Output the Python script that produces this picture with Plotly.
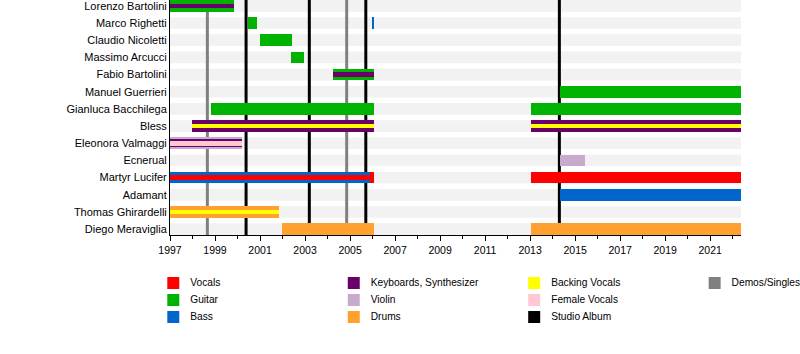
import plotly.graph_objects as go

# ---------------- data ----------------
members = ["Lorenzo Bartolini", "Marco Righetti", "Claudio Nicoletti", "Massimo Arcucci",
           "Fabio Bartolini", "Manuel Guerrieri", "Gianluca Bacchilega", "Bless",
           "Eleonora Valmaggi", "Ecnerual", "Martyr Lucifer", "Adamant",
           "Thomas Ghirardelli", "Diego Meraviglia"]

END = 2022.37
START = 1997

roles = ["Vocals", "Guitar", "Bass", "Keyboards, Synthesizer", "Violin", "Drums",
         "Backing Vocals", "Female Vocals", "Studio Album", "Demos/Singles"]
role_colors = ["#ff0000", "#00b300", "#0066cc", "#6a006a", "#c8aacd", "#ffa030",
               "#ffff00", "#ffc8d2", "#000000", "#808080"]

# segments: member, role, start, end, layer (full / mid / narrow / stripe)
seg_member = ["Lorenzo Bartolini", "Lorenzo Bartolini",
              "Marco Righetti", "Marco Righetti",
              "Claudio Nicoletti", "Massimo Arcucci",
              "Fabio Bartolini", "Fabio Bartolini",
              "Manuel Guerrieri",
              "Gianluca Bacchilega", "Gianluca Bacchilega",
              "Bless", "Bless", "Bless", "Bless",
              "Eleonora Valmaggi", "Eleonora Valmaggi", "Eleonora Valmaggi",
              "Ecnerual",
              "Martyr Lucifer", "Martyr Lucifer", "Martyr Lucifer", "Martyr Lucifer",
              "Adamant",
              "Thomas Ghirardelli", "Thomas Ghirardelli",
              "Diego Meraviglia", "Diego Meraviglia"]
seg_role = ["Guitar", "Keyboards, Synthesizer",
            "Guitar", "Bass",
            "Guitar", "Guitar",
            "Guitar", "Keyboards, Synthesizer",
            "Guitar",
            "Guitar", "Guitar",
            "Keyboards, Synthesizer", "Keyboards, Synthesizer", "Backing Vocals", "Backing Vocals",
            "Violin", "Keyboards, Synthesizer", "Female Vocals",
            "Violin",
            "Vocals", "Bass", "Vocals", "Vocals",
            "Bass",
            "Drums", "Backing Vocals",
            "Drums", "Drums"]
seg_start = [1997.0, 1997.0,
             2000.45, 2005.98,
             2001.0, 2002.38,
             2004.24, 2004.24,
             2014.33,
             1998.82, 2013.04,
             1997.98, 2013.04, 1997.98, 2013.04,
             1997.0, 1997.0, 1997.0,
             2014.33,
             1997.0, 1997.0, 1997.0, 2013.04,
             2014.33,
             1997.0, 1997.0,
             2001.98, 2013.04]
seg_end = [1999.84, 1999.84,
           2000.87, 2006.07,
           2002.42, 2002.94,
           2006.07, 2006.07,
           END,
           2006.07, END,
           2006.07, END, 2006.07, END,
           2000.18, 2000.18, 2000.18,
           2015.43,
           2006.07, 2005.9, 2005.9, END,
           END,
           2001.83, 2001.83,
           2006.07, END]
seg_layer = ["full", "stripe",
             "full", "full",
             "full", "full",
             "full", "stripe",
             "full",
             "full", "full",
             "full", "full", "stripe", "stripe",
             "full", "mid", "narrow",
             "full",
             "full", "full", "stripe", "full",
             "full",
             "full", "stripe",
             "full", "full"]

album_years = [2000.38, 2003.19, 2005.7, 2014.3]
demo_years = [1998.66, 2004.85]

legend_columns = [["Vocals", "Guitar", "Bass"],
                  ["Keyboards, Synthesizer", "Violin", "Drums"],
                  ["Backing Vocals", "Female Vocals", "Studio Album"],
                  ["Demos/Singles"]]

# ---------------- figure ----------------
color_of = dict(zip(roles, role_colors))
row_of = {m: i for i, m in enumerate(members)}
layer_width = {"full": 0.68, "mid": 0.46, "stripe": 0.25, "narrow": 0.32}

fig = go.Figure()

for m, r, s, e, l in zip(seg_member, seg_role, seg_start, seg_end, seg_layer):
    fig.add_trace(go.Bar(
        orientation="h", y=[row_of[m]], x=[e - s], base=[s],
        width=layer_width[l], marker=dict(color=color_of[r], line=dict(width=0)),
        showlegend=False, hoverinfo="skip", xaxis="x", yaxis="y"))

# legend drawn on its own hidden axes (column index, row index)
leg_x, leg_y, leg_name, leg_col = [], [], [], []
for ci, col in enumerate(legend_columns):
    for ri, r in enumerate(col):
        leg_x.append(ci)
        leg_y.append(ri)
        leg_name.append(r)
        leg_col.append(color_of[r])

TEXT_OFFSET = 0.094  # gap between swatch centre and label, in column units
fig.add_trace(go.Scatter(
    x=leg_x, y=leg_y, mode="markers", xaxis="x2", yaxis="y2",
    marker=dict(symbol="square", size=12, color=leg_col, line=dict(width=0)),
    showlegend=False, hoverinfo="skip", cliponaxis=False))
fig.add_trace(go.Scatter(
    x=[v + TEXT_OFFSET for v in leg_x], y=leg_y, mode="text", text=leg_name,
    textposition="middle right", xaxis="x2", yaxis="y2",
    textfont=dict(size=10.2, color="#000000"),
    showlegend=False, hoverinfo="skip", cliponaxis=False))

shapes = []
for i in range(len(members)):
    shapes.append(dict(type="rect", xref="x domain", x0=0, x1=1, yref="y",
                       y0=i - 0.34, y1=i + 0.34, fillcolor="#f2f2f2",
                       line=dict(width=0), layer="below"))
for yv in demo_years:
    shapes.append(dict(type="line", xref="x", x0=yv, x1=yv, yref="y domain", y0=0, y1=1,
                       line=dict(color=color_of["Demos/Singles"], width=3), layer="below"))
for yv in album_years:
    shapes.append(dict(type="line", xref="x", x0=yv, x1=yv, yref="y domain", y0=0, y1=1,
                       line=dict(color=color_of["Studio Album"], width=3), layer="below"))

fig.update_layout(
    width=800, height=354,
    margin=dict(l=170, r=59, t=0, b=0, autoexpand=False),
    paper_bgcolor="white", plot_bgcolor="white",
    barmode="overlay", bargap=0, showlegend=False,
    font=dict(family="Liberation Sans, Arial, sans-serif", size=11, color="#000000"),
    shapes=shapes,
    xaxis=dict(domain=[0, 1], anchor="y", range=[START, END], tickmode="linear",
               tick0=1997, dtick=2,
               ticks="outside", ticklen=5, tickwidth=1, tickcolor="black",
               showline=True, linecolor="black", linewidth=1, showgrid=False,
               zeroline=False, tickfont=dict(size=10.5),
               minor=dict(tickmode="linear", tick0=1997, dtick=1, ticks="outside",
                          ticklen=3, tickcolor="black", showgrid=False)),
    yaxis=dict(domain=[1 - 235 / 354, 1], anchor="x",
               range=[len(members) - 1 + 0.34, -0.34], tickmode="array",
               tickvals=list(range(len(members))), ticktext=members,
               ticks="", showline=True, linecolor="black", linewidth=1,
               showgrid=False, zeroline=False, tickfont=dict(size=11),
               ticklabeloverflow="allow"),
    xaxis2=dict(domain=[0, 1], anchor="y2", range=[-0.0183, 3.146], visible=False,
                fixedrange=True),
    yaxis2=dict(domain=[0, 0.3], anchor="x2", range=[4.176, -2.071], visible=False,
                fixedrange=True),
)

fig.write_html("out.html")
